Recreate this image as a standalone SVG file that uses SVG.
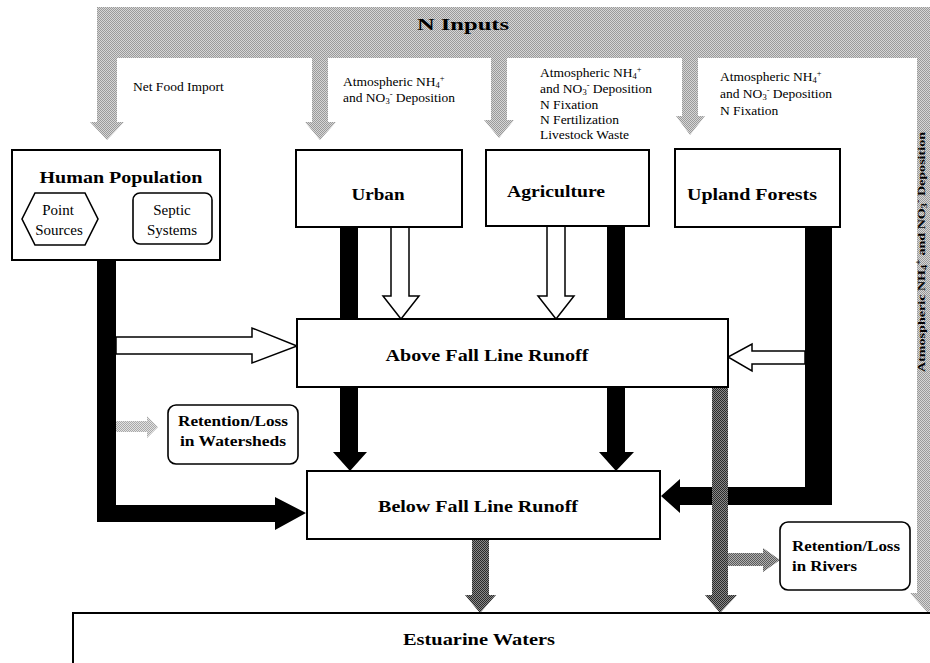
<svg xmlns="http://www.w3.org/2000/svg" width="930" height="663" viewBox="0 0 930 663">
<defs>
<pattern id="stipL" width="2" height="2" patternUnits="userSpaceOnUse"><rect width="2" height="2" fill="#d6d6d6"/><rect width="1" height="1" fill="#9a9a9a"/><rect x="1" y="1" width="1" height="1" fill="#9a9a9a"/></pattern>
<pattern id="stipD" width="2" height="2" patternUnits="userSpaceOnUse"><rect width="2" height="2" fill="#8a8a8a"/><rect width="1" height="1" fill="#2a2a2a"/><rect x="1" y="1" width="1" height="1" fill="#2a2a2a"/></pattern>
<pattern id="stipM" width="2" height="2" patternUnits="userSpaceOnUse"><rect width="2" height="2" fill="#b0b0b0"/><rect width="1" height="1" fill="#5a5a5a"/><rect x="1" y="1" width="1" height="1" fill="#5a5a5a"/></pattern>
<pattern id="stipW" width="2" height="2" patternUnits="userSpaceOnUse"><rect width="2" height="2" fill="#e2e2e2"/><rect width="1" height="1" fill="#a8a8a8"/><rect x="1" y="1" width="1" height="1" fill="#a8a8a8"/></pattern>
</defs>
<style>
text{font-family:'Liberation Serif','Times New Roman',serif;fill:#000}
.box{fill:#fff;stroke:#000;stroke-width:2}
.sub{fill:#fff;stroke:#000;stroke-width:1.6}
.hd{font-weight:bold;font-size:17px;text-anchor:middle}
.sm{font-size:15px;text-anchor:middle}
.rt{font-weight:bold;font-size:14px}
.lb{font-size:13.5px}
.blk{fill:#000}
.hol{fill:#fff;stroke:#000;stroke-width:1.5}
.band{fill:url(#stipL)}
</style>
<rect width="930" height="663" fill="#fff"/>

<g id="n-inputs">
<rect class="band" x="97" y="7" width="833" height="51"/>
<polygon class="band" points="917,58 940,58 940,593 946,593 928,613 910,593 917,593"/>
<polygon class="band" points="97,58 117,58 117,122 124,122 107,140 90,122 97,122"/>
<polygon class="band" points="312,58 328,58 328,122 336,122 320,140 305,122 312,122"/>
<polygon class="band" points="491,58 507,58 507,120 514,120 499,138 484,120 491,120"/>
<polygon class="band" points="682,58 698,58 698,116 705,116 690,135 676,116 682,116"/>
<text class="hd" x="463" y="30" textLength="92" lengthAdjust="spacingAndGlyphs">N Inputs</text>
<text class="lb" x="133" y="91">Net Food Import</text>
<text class="lb" x="343" y="86">Atmospheric NH<tspan dy="2" font-size="8.5">4</tspan><tspan dy="-7" font-size="8.5">+</tspan></text>
<text class="lb" x="343" y="102">and NO<tspan dy="2" font-size="8.5">3</tspan><tspan dy="-7" font-size="8.5">-</tspan><tspan dy="5"> Deposition</tspan></text>
<text class="lb" x="540" y="77">Atmospheric NH<tspan dy="2" font-size="8.5">4</tspan><tspan dy="-7" font-size="8.5">+</tspan></text>
<text class="lb" x="540" y="93">and NO<tspan dy="2" font-size="8.5">3</tspan><tspan dy="-7" font-size="8.5">-</tspan><tspan dy="5"> Deposition</tspan></text>
<text class="lb" x="540" y="109">N Fixation</text>
<text class="lb" x="540" y="124">N Fertilization</text>
<text class="lb" x="540" y="139">Livestock Waste</text>
<text class="lb" x="720" y="81">Atmospheric NH<tspan dy="2" font-size="8.5">4</tspan><tspan dy="-7" font-size="8.5">+</tspan></text>
<text class="lb" x="720" y="98">and NO<tspan dy="2" font-size="8.5">3</tspan><tspan dy="-7" font-size="8.5">-</tspan><tspan dy="5"> Deposition</tspan></text>
<text class="lb" x="720" y="115">N Fixation</text>
<text transform="translate(925,372) rotate(-90)" font-weight="bold" font-size="11" textLength="240" lengthAdjust="spacingAndGlyphs">Atmospheric NH<tspan dy="2" font-size="8">4</tspan><tspan dy="-6" font-size="8">+</tspan><tspan dy="4"> and NO</tspan><tspan dy="2" font-size="8">3</tspan><tspan dy="-6" font-size="8">-</tspan><tspan dy="4"> Deposition</tspan></text>
</g>

<g id="connectors">
<polygon class="blk" points="97,260 116,260 116,505 275,505 275,497 306,513 275,530 275,522 97,522"/>
<polygon class="blk" points="340,227 358,227 358,452 367,452 350,471 333,452 340,452"/>
<polygon class="blk" points="607,226 625,226 625,452 634,452 616,471 599,452 607,452"/>
<polygon class="blk" points="805,227 832,227 832,505 680,505 680,513 661,496 680,479 680,487 805,487"/>
<polygon class="hol" points="391,227 409,227 409,296 419,296 401,319 383,296 391,296"/>
<polygon class="hol" points="547,226 565,226 565,296 574,296 556,319 538,296 547,296"/>
<polygon class="hol" points="116,337 252,337 252,328 297,346 252,363 252,354 116,354"/>
<polygon class="hol" points="805,351 752,351 752,344 728,357 752,371 752,364 805,364"/>
<polygon fill="url(#stipW)" points="116,421 147,421 147,416 158,427 147,438 147,432 116,432"/>
<polygon fill="url(#stipD)" points="712,387 728,387 728,595 737,595 720,613 705,595 712,595"/>
<polygon fill="url(#stipM)" points="728,553 763,553 763,548 780,560 763,572 763,566 728,566"/>
<polygon fill="url(#stipD)" points="472,539 489,539 489,595 496,595 480,613 465,595 472,595"/>
</g>

<g id="human-population">
<rect class="box" x="12" y="150" width="208" height="110"/>
<text class="hd" x="121" y="183" textLength="163" lengthAdjust="spacingAndGlyphs">Human Population</text>
</g>
<g id="point-sources">
<polygon class="sub" points="22,219 35,193 85,193 98,219 85,245 35,245"/>
<text class="sm" x="58" y="215">Point</text>
<text class="sm" x="59" y="235">Sources</text>
</g>
<g id="septic-systems">
<rect class="sub" x="133" y="193" width="79" height="51" rx="7"/>
<text class="sm" x="172" y="215">Septic</text>
<text class="sm" x="172" y="235">Systems</text>
</g>
<g id="urban">
<rect class="box" x="296" y="150" width="166" height="77"/>
<text class="hd" x="378" y="200" textLength="53" lengthAdjust="spacingAndGlyphs">Urban</text>
</g>
<g id="agriculture">
<rect class="box" x="486" y="150" width="163" height="76"/>
<text class="hd" x="556" y="197" textLength="98" lengthAdjust="spacingAndGlyphs">Agriculture</text>
</g>
<g id="upland-forests">
<rect class="box" x="675" y="149" width="165" height="78"/>
<text class="hd" x="752" y="200" textLength="130" lengthAdjust="spacingAndGlyphs">Upland Forests</text>
</g>
<g id="above-fall-line">
<rect class="box" x="297" y="319" width="431" height="68"/>
<text class="hd" x="487" y="361" textLength="203" lengthAdjust="spacingAndGlyphs">Above Fall Line Runoff</text>
</g>
<g id="below-fall-line">
<rect class="box" x="307" y="471" width="353" height="68"/>
<text class="hd" x="478" y="512" textLength="200" lengthAdjust="spacingAndGlyphs">Below Fall Line Runoff</text>
</g>
<g id="retention-watersheds">
<rect class="sub" x="168" y="405" width="130" height="59" rx="8"/>
<text class="rt" x="178" y="426" textLength="110" lengthAdjust="spacingAndGlyphs">Retention/Loss</text>
<text class="rt" x="180" y="446" textLength="106" lengthAdjust="spacingAndGlyphs">in Watersheds</text>
</g>
<g id="retention-rivers">
<rect class="sub" x="780" y="522" width="130" height="68" rx="8"/>
<text class="rt" x="792" y="551" textLength="108" lengthAdjust="spacingAndGlyphs">Retention/Loss</text>
<text class="rt" x="792" y="571" textLength="65" lengthAdjust="spacingAndGlyphs">in Rivers</text>
</g>
<g id="estuarine-waters">
<rect class="box" x="73" y="613" width="880" height="70"/>
<text class="hd" x="479" y="645" textLength="152" lengthAdjust="spacingAndGlyphs">Estuarine Waters</text>
</g>
</svg>
